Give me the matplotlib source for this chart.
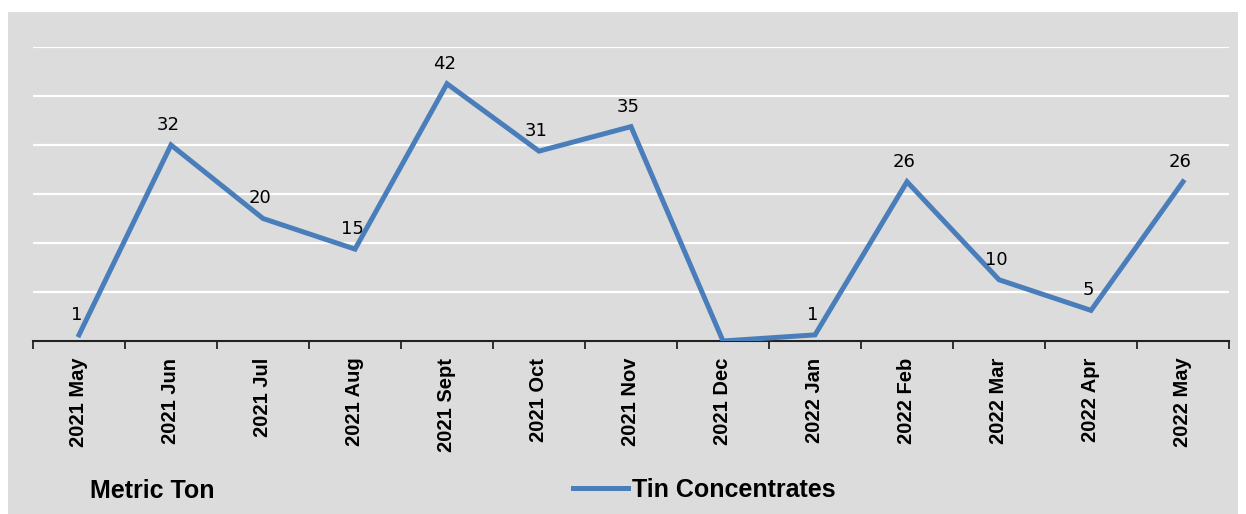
import matplotlib.pyplot as plt
from matplotlib.patches import Rectangle

# data
months = ['2021 May', '2021 Jun', '2021 Jul', '2021 Aug', '2021 Sept', '2021 Oct',
          '2021 Nov', '2021 Dec', '2022 Jan', '2022 Feb', '2022 Mar', '2022 Apr', '2022 May']
tin = [1, 32, 20, 15, 42, 31, 35, 0, 1, 26, 10, 5, 26]
labels = ['1', '32', '20', '15', '42', '31', '35', '', '1', '26', '10', '5', '26']
y_ticks = [0, 8, 16, 24, 32, 40, 48]

blue = '#4a7ebb'
bold_font = 'Liberation Sans'

fig = plt.figure(figsize=(12.46, 5.14), dpi=100)
fig.patch.set_facecolor('white')
# gray chart area background
bg = Rectangle((8 / 1246, 0), 1230 / 1246, 502 / 514,
               transform=fig.transFigure, facecolor='#dcdcdc',
               edgecolor='none', zorder=-10)
fig.patches.append(bg)

ax = fig.add_axes([33 / 1246, 1 - 341 / 514, 1196 / 1246, 294 / 514])
ax.set_facecolor('none')
ax.set_zorder(1)

x = list(range(len(months)))
ax.plot(x, tin, color=blue, linewidth=3.6, solid_joinstyle='miter', zorder=3)

# data labels
for xi, yi, lab in zip(x, tin, labels):
    if lab:
        ax.annotate(lab, (xi, yi), xytext=(-2, 8), textcoords='offset points',
                    ha='center', va='bottom', fontsize=13, family='DejaVu Sans')

ax.set_xlim(-0.5, len(months) - 0.5)
ax.set_ylim(0, 48)
ax.set_yticks(y_ticks)
ax.tick_params(axis='y', left=False, labelleft=False)
ax.grid(axis='y', color='white', linewidth=1.6)
ax.set_axisbelow(True)

# ticks between categories, labels on categories
ax.set_xticks([i - 0.5 for i in range(len(months) + 1)])
ax.set_xticklabels([])
ax.tick_params(axis='x', which='major', direction='out', length=6, width=1.3, color='#222222')
ax.set_xticks(x, minor=True)
ax.set_xticklabels(months, minor=True, rotation=90, fontsize=14.5,
                   fontweight='bold', family=bold_font)
ax.tick_params(axis='x', which='minor', length=0, pad=12)

for side in ['top', 'right', 'left']:
    ax.spines[side].set_visible(False)
ax.spines['bottom'].set_linewidth(1.5)
ax.spines['bottom'].set_color('#222222')

fig.text(90 / 1246, 1 - 491 / 514, 'Metric Ton', fontsize=18, fontweight='bold',
         family=bold_font, va='center', ha='left')

fig.legend([ax.lines[0]], ['Tin Concentrates'], loc='center left',
           bbox_to_anchor=(573 / 1246, 1 - 490 / 514), frameon=False,
           prop={'family': bold_font, 'weight': 'bold', 'size': 18},
           handlelength=2.2, handletextpad=0.15, borderpad=0, borderaxespad=0)

fig.savefig('out.png', dpi=100)
